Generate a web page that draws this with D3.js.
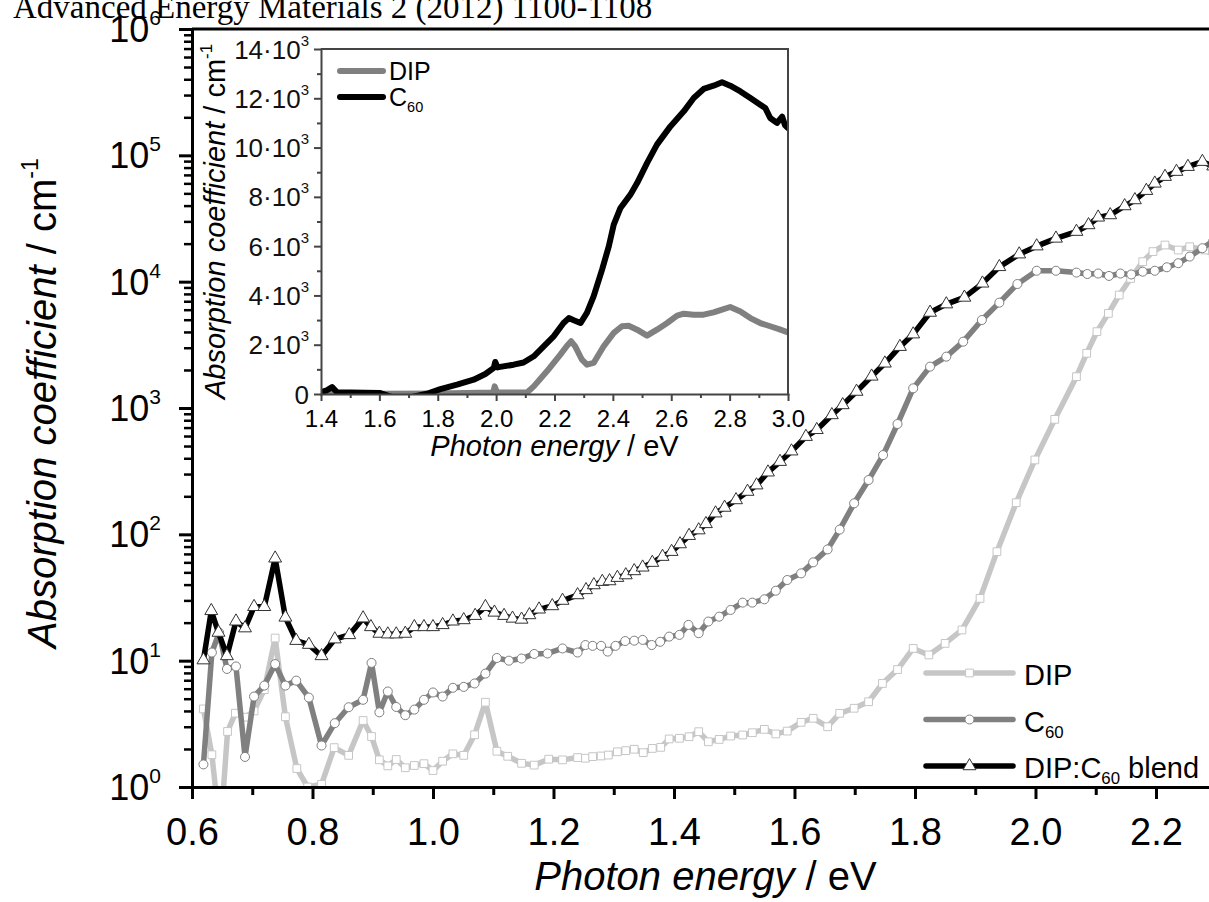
<!DOCTYPE html>
<html>
<head>
<meta charset="utf-8">
<script src="https://cdn.jsdelivr.net/npm/d3@7"></script>
<style>
  body { margin: 0; background: #fff; }
  svg { display: block; }
</style>
</head>
<body>
<div id="chart"></div>
<script>
// ---- data ----
const headerText = "Advanced Energy Materials 2 (2012) 1100-1108";

// main panel: absorption coefficient (cm^-1) vs photon energy (eV), log scale
const dipE = [0.619, 0.633, 0.641, 0.651, 0.659, 0.672, 0.688, 0.703, 0.720, 0.738, 0.755, 0.774, 0.792, 0.815, 0.836, 0.860, 0.884, 0.898, 0.911, 0.925, 0.939, 0.954, 0.969, 0.985, 1.000, 1.016, 1.033, 1.051, 1.069, 1.087, 1.106, 1.124, 1.147, 1.168, 1.192, 1.215, 1.240, 1.253, 1.265, 1.279, 1.291, 1.306, 1.320, 1.334, 1.349, 1.364, 1.378, 1.392, 1.409, 1.425, 1.441, 1.457, 1.475, 1.494, 1.514, 1.530, 1.550, 1.569, 1.588, 1.611, 1.631, 1.655, 1.675, 1.699, 1.723, 1.746, 1.771, 1.797, 1.823, 1.850, 1.878, 1.908, 1.936, 1.968, 1.999, 2.032, 2.068, 2.085, 2.102, 2.121, 2.139, 2.158, 2.178, 2.195, 2.215, 2.237, 2.256, 2.281, 2.295];
const dipAlpha = [4.15, 1.8, 0.8, 0.8, 2.75, 3.84, 3.57, 4.0, 5.9, 15.1, 3.6, 1.4, 1.0, 1.05, 2.05, 1.78, 3.36, 2.51, 1.64, 1.47, 1.65, 1.42, 1.48, 1.53, 1.35, 1.6, 1.83, 1.78, 2.59, 4.69, 1.92, 1.75, 1.54, 1.49, 1.66, 1.64, 1.71, 1.69, 1.74, 1.76, 1.79, 1.9, 1.94, 1.99, 1.87, 2.02, 2.06, 2.4, 2.43, 2.5, 2.74, 2.28, 2.38, 2.53, 2.58, 2.69, 2.86, 2.63, 2.77, 3.25, 3.5, 3.0, 3.83, 4.2, 4.73, 6.6, 8.5, 12.5, 11.1, 13.7, 17.5, 31.1, 72.9, 178, 388, 813, 1770, 2710, 4020, 5610, 7840, 10600, 14400, 17300, 19500, 17800, 18900, 17800, 16500];

const c60E = [0.619, 0.633, 0.645, 0.658, 0.673, 0.688, 0.703, 0.720, 0.738, 0.755, 0.773, 0.794, 0.815, 0.837, 0.860, 0.884, 0.898, 0.911, 0.925, 0.939, 0.954, 0.969, 0.985, 1.000, 1.016, 1.033, 1.051, 1.069, 1.087, 1.106, 1.126, 1.147, 1.168, 1.190, 1.215, 1.240, 1.253, 1.265, 1.279, 1.290, 1.303, 1.319, 1.334, 1.348, 1.363, 1.377, 1.392, 1.409, 1.424, 1.441, 1.457, 1.475, 1.494, 1.514, 1.530, 1.550, 1.569, 1.588, 1.611, 1.631, 1.655, 1.675, 1.699, 1.723, 1.747, 1.771, 1.797, 1.825, 1.852, 1.880, 1.911, 1.940, 1.970, 2.002, 2.034, 2.068, 2.086, 2.104, 2.122, 2.141, 2.159, 2.178, 2.198, 2.218, 2.237, 2.256, 2.277, 2.295];
const c60Alpha = [1.51, 11.6, 16.7, 8.6, 9.0, 1.73, 5.2, 6.35, 9.4, 6.35, 6.95, 5.1, 2.13, 3.2, 4.28, 4.9, 9.6, 3.9, 5.7, 4.3, 3.7, 4.1, 4.9, 5.6, 5.2, 6.1, 6.2, 6.6, 7.9, 10.5, 10.0, 10.4, 11.3, 11.4, 12.5, 11.6, 13.3, 13.1, 13.1, 11.8, 13.1, 14.3, 14.4, 14.6, 13.3, 14.1, 15.5, 16.0, 19.2, 16.5, 20.4, 22.3, 25.2, 28.8, 28.8, 30.6, 35.8, 43.5, 49.1, 60, 76, 109, 176, 269, 424, 747, 1431, 2125, 2550, 3350, 4970, 6820, 9580, 12200, 12200, 11800, 11500, 11600, 11100, 11600, 11400, 12000, 12200, 13000, 14000, 15800, 18400, 21000];

const blendE = [0.619, 0.632, 0.644, 0.658, 0.673, 0.688, 0.703, 0.720, 0.738, 0.755, 0.773, 0.794, 0.815, 0.837, 0.861, 0.884, 0.897, 0.911, 0.925, 0.939, 0.954, 0.969, 0.985, 1.000, 1.016, 1.033, 1.051, 1.070, 1.087, 1.102, 1.118, 1.132, 1.147, 1.160, 1.176, 1.198, 1.215, 1.240, 1.254, 1.267, 1.281, 1.293, 1.306, 1.320, 1.334, 1.348, 1.364, 1.381, 1.396, 1.410, 1.425, 1.441, 1.453, 1.469, 1.484, 1.503, 1.522, 1.537, 1.556, 1.576, 1.595, 1.619, 1.637, 1.662, 1.680, 1.703, 1.728, 1.750, 1.775, 1.797, 1.825, 1.852, 1.882, 1.912, 1.940, 1.973, 2.002, 2.034, 2.068, 2.088, 2.104, 2.124, 2.148, 2.165, 2.184, 2.198, 2.215, 2.234, 2.253, 2.277, 2.295];
const blendAlpha = [10.1, 24.8, 16.7, 10.9, 20.5, 18.1, 26.7, 26.7, 64.6, 22, 14.4, 13.4, 10.9, 14.8, 16, 21.7, 18.5, 16.4, 16.2, 16.2, 16.4, 18.5, 18.5, 18.5, 19.2, 20.5, 21, 22.7, 26.7, 24.1, 22.7, 21.6, 21.2, 23, 25.5, 27.1, 29.9, 33.1, 36.3, 39.7, 42.2, 42.7, 45.4, 47.6, 51.3, 54.8, 59.7, 66.6, 72.9, 83.8, 97.5, 108, 121, 147, 163, 187, 218, 245, 310, 376, 455, 593, 672, 881, 1057, 1350, 1780, 2258, 3056, 3840, 5700, 6640, 7500, 9700, 13100, 16500, 19100, 22000, 24900, 28100, 32300, 33700, 39700, 44300, 52500, 60000, 67800, 74300, 81300, 89100, 82000];

// inset: linear scale
const insetDipE = [1.40, 1.60, 1.80, 1.990, 1.995, 2.003, 2.106, 2.129, 2.174, 2.220, 2.243, 2.257, 2.271, 2.294, 2.311, 2.334, 2.368, 2.403, 2.431, 2.454, 2.483, 2.517, 2.551, 2.586, 2.620, 2.643, 2.677, 2.711, 2.745, 2.774, 2.802, 2.837, 2.871, 2.905, 2.939, 2.974, 3.00];
const insetDipAlpha = [20, 10, 20, 60, 310, 60, 60, 310, 920, 1600, 1960, 2140, 1930, 1390, 1190, 1260, 1930, 2480, 2750, 2770, 2610, 2370, 2610, 2880, 3180, 3260, 3220, 3220, 3310, 3420, 3530, 3350, 3080, 2880, 2750, 2610, 2500];
const insetC60E = [1.400, 1.420, 1.438, 1.455, 1.500, 1.550, 1.603, 1.650, 1.700, 1.763, 1.809, 1.866, 1.923, 1.963, 1.992, 1.997, 2.005, 2.014, 2.060, 2.094, 2.129, 2.163, 2.197, 2.231, 2.249, 2.266, 2.289, 2.311, 2.334, 2.363, 2.386, 2.403, 2.426, 2.460, 2.483, 2.517, 2.551, 2.597, 2.643, 2.677, 2.711, 2.745, 2.774, 2.802, 2.837, 2.871, 2.905, 2.922, 2.939, 2.962, 2.980, 2.990, 3.000];
const insetC60Alpha = [70, 150, 280, 70, 60, 50, 40, -150, -150, 10, 200, 380, 580, 810, 1060, 1300, 1080, 1100, 1190, 1280, 1530, 1930, 2340, 2880, 3080, 2990, 2880, 3290, 3960, 5050, 5990, 6870, 7550, 8090, 8560, 9370, 10120, 10860, 11470, 12010, 12380, 12510, 12650, 12510, 12280, 12010, 11740, 11610, 11200, 11000, 11250, 10900, 10790];

// ticks
const xTicks = [0.6, 0.8, 1.0, 1.2, 1.4, 1.6, 1.8, 2.0, 2.2];
const xMinorTicks = [0.7, 0.9, 1.1, 1.3, 1.5, 1.7, 1.9, 2.1];
const yDecades = [0, 1, 2, 3, 4, 5, 6];
const insetXTicks = [1.4, 1.6, 1.8, 2.0, 2.2, 2.4, 2.6, 2.8, 3.0];
const insetXMinorTicks = [1.5, 1.7, 1.9, 2.1, 2.3, 2.5, 2.7, 2.9];
const insetYTicks = [0, 2000, 4000, 6000, 8000, 10000, 12000, 14000];
const insetYMinorTicks = [1000, 3000, 5000, 7000, 9000, 11000, 13000];

// ---- drawing ----
const FONT = "'Liberation Sans', Arial, Helvetica, sans-serif";
const W = 1209, H = 902;

const svg = d3.select("#chart").append("svg")
    .attr("width", W)
    .attr("height", H)
    .attr("font-family", FONT);

svg.append("text")
    .attr("x", 13)
    .attr("y", 18)
    .attr("font-family", "'Liberation Serif', 'Times New Roman', serif")
    .attr("font-size", 33)
    .text(headerText);

// helper: write label parts (plain / italic / sup / sub) into a text element
function writeParts(textSel, parts, baseSize) {
    parts.forEach(p => {
        const t = textSel.append("tspan").text(p.t);
        if (p.italic) t.attr("font-style", "italic");
        if (p.sup) t.attr("font-size", baseSize * 0.58).attr("dy", -baseSize * 0.45);
        if (p.sub) t.attr("font-size", baseSize * 0.58).attr("dy", baseSize * 0.22);
        if (p.back) t.attr("dy", p.back);
    });
}

function styleAxis(g, color, width, size) {
    g.attr("font-family", FONT).attr("font-size", size);
    g.selectAll("path, line").attr("stroke", color).attr("stroke-width", width);
    g.select(".domain").attr("stroke-linecap", "square");
    g.selectAll("text").attr("fill", "#000");
}

// ===== main panel =====
const margin = { top: 29, right: 0, bottom: 115, left: 192 };
const x = d3.scaleLinear().domain([0.6, 2.288]).range([margin.left, W - margin.right]);
const y = d3.scaleLog().domain([1, 1e6]).range([H - margin.bottom, margin.top]);

svg.append("defs").append("clipPath").attr("id", "plot-clip")
    .append("rect")
    .attr("x", x.range()[0]).attr("y", y.range()[1])
    .attr("width", x.range()[1] - x.range()[0])
    .attr("height", y.range()[0] - y.range()[1]);

const mainSeries = [
    { label: [{ t: "DIP" }], e: dipE, v: dipAlpha, color: "#c6c6c6", symbol: d3.symbolSquare, size: 60, mstroke: "#c6c6c6" },
    { label: [{ t: "C" }, { t: "60", sub: true }], e: c60E, v: c60Alpha, color: "#808080", symbol: d3.symbolCircle, size: 64, mstroke: "#808080" },
    { label: [{ t: "DIP:C" }, { t: "60", sub: true }, { t: " blend", back: -29 * 0.22 }], e: blendE, v: blendAlpha, color: "#000", symbol: d3.symbolTriangle, size: 72, mstroke: "#333" }
];

const plot = svg.append("g").attr("clip-path", "url(#plot-clip)");
const line = d3.line().x(d => x(d[0])).y(d => y(d[1]));

mainSeries.forEach(s => {
    const pts = d3.zip(s.e, s.v);
    plot.append("path")
        .datum(pts)
        .attr("fill", "none")
        .attr("stroke", s.color)
        .attr("stroke-width", 5.5)
        .attr("stroke-linejoin", "round")
        .attr("d", line);
    plot.append("g").selectAll("path")
        .data(pts)
        .join("path")
        .attr("transform", d => `translate(${x(d[0])},${y(d[1])})`)
        .attr("d", d3.symbol().type(s.symbol).size(s.size))
        .attr("fill", "#fff")
        .attr("stroke", s.mstroke)
        .attr("stroke-width", 1);
});

// axes
const xAxisG = svg.append("g")
    .attr("transform", `translate(0,${y(1)})`)
    .call(d3.axisBottom(x).tickValues(xTicks).tickSize(12).tickSizeOuter(0)
        .tickPadding(19).tickFormat(d3.format(".1f")));
styleAxis(xAxisG, "#000", 3, 38);

const xMinorG = svg.append("g")
    .attr("transform", `translate(0,${y(1)})`)
    .call(d3.axisBottom(x).tickValues(xMinorTicks).tickSize(8).tickFormat(""));
xMinorG.select(".domain").remove();
styleAxis(xMinorG, "#000", 3, 10);

const yMinor = [];
yDecades.slice(0, -1).forEach(p => d3.range(2, 10).forEach(m => yMinor.push(m * Math.pow(10, p))));

const yAxisG = svg.append("g")
    .attr("transform", `translate(${x(0.6)},0)`)
    .call(d3.axisLeft(y).tickValues(yDecades.map(p => Math.pow(10, p)))
        .tickSize(13).tickSizeOuter(0).tickFormat(""));
styleAxis(yAxisG, "#000", 3, 10);

const yMinorG = svg.append("g")
    .attr("transform", `translate(${x(0.6)},0)`)
    .call(d3.axisLeft(y).tickValues(yMinor).tickSize(8).tickFormat(""));
yMinorG.select(".domain").remove();
styleAxis(yMinorG, "#000", 2.5, 10);

yDecades.forEach(p => {
    const t = svg.append("text")
        .attr("x", x(0.6) - 31)
        .attr("y", y(Math.pow(10, p)))
        .attr("dy", "0.36em")
        .attr("text-anchor", "end")
        .attr("font-size", 36);
    t.append("tspan").text("10");
    t.append("tspan").attr("font-size", 21).attr("dy", -17).text(p);
});

svg.append("line")
    .attr("x1", x.range()[0]).attr("x2", x.range()[1])
    .attr("y1", y(1e6)).attr("y2", y(1e6))
    .attr("stroke", "#000").attr("stroke-width", 3);

// titles
const xTitle = svg.append("text")
    .attr("x", (x.range()[0] + x.range()[1]) / 2 + 5)
    .attr("y", 890)
    .attr("text-anchor", "middle")
    .attr("font-size", 40);
writeParts(xTitle, [{ t: "Photon energy", italic: true }, { t: " / eV" }], 40);

const yTitle = svg.append("text")
    .attr("transform", `translate(56,${(y.range()[0] + y.range()[1]) / 2 - 5}) rotate(-90)`)
    .attr("text-anchor", "middle")
    .attr("font-size", 40);
writeParts(yTitle, [{ t: "Absorption coefficient", italic: true }, { t: " / cm" }, { t: "-1", sup: true }], 40);

// legend
const leg = { x0: 926, x1: 1013, y0: 673, step: 46.5, tx: 1024 };
mainSeries.forEach((s, i) => {
    const ly = leg.y0 + i * leg.step;
    svg.append("line")
        .attr("x1", leg.x0).attr("x2", leg.x1)
        .attr("y1", ly).attr("y2", ly)
        .attr("stroke", s.color).attr("stroke-width", 5.5)
        .attr("stroke-linecap", "round");
    svg.append("path")
        .attr("transform", `translate(${(leg.x0 + leg.x1) / 2},${ly})`)
        .attr("d", d3.symbol().type(s.symbol).size(s.size))
        .attr("fill", "#fff").attr("stroke", s.mstroke).attr("stroke-width", 1);
    const t = svg.append("text")
        .attr("x", leg.tx).attr("y", ly + 12)
        .attr("font-size", 29);
    writeParts(t, s.label, 29);
});

// ===== inset =====
const xi = d3.scaleLinear().domain([1.4, 3.0]).range([321, 788]);
const yi = d3.scaleLinear().domain([0, 14000]).range([394, 49]);
const insetColor = "#444";

svg.append("defs").append("clipPath").attr("id", "inset-clip")
    .append("rect")
    .attr("x", xi.range()[0]).attr("y", yi.range()[1])
    .attr("width", xi.range()[1] - xi.range()[0])
    .attr("height", yi.range()[0] - yi.range()[1]);

const insetSeries = [
    { label: [{ t: "DIP" }], e: insetDipE, v: insetDipAlpha, color: "#808080" },
    { label: [{ t: "C" }, { t: "60", sub: true }], e: insetC60E, v: insetC60Alpha, color: "#000" }
];

const insetPlot = svg.append("g").attr("clip-path", "url(#inset-clip)");
const insetLine = d3.line().x(d => xi(d[0])).y(d => yi(d[1]));
insetSeries.forEach(s => {
    insetPlot.append("path")
        .datum(d3.zip(s.e, s.v))
        .attr("fill", "none")
        .attr("stroke", s.color)
        .attr("stroke-width", 6)
        .attr("stroke-linejoin", "round")
        .attr("stroke-linecap", "round")
        .attr("d", insetLine);
});

const xiAxisG = svg.append("g")
    .attr("transform", `translate(0,${yi(0)})`)
    .call(d3.axisBottom(xi).tickValues(insetXTicks).tickSize(7).tickSizeOuter(0)
        .tickPadding(9).tickFormat(d3.format(".1f")));
styleAxis(xiAxisG, insetColor, 2, 24);

const xiMinorG = svg.append("g")
    .attr("transform", `translate(0,${yi(0)})`)
    .call(d3.axisBottom(xi).tickValues(insetXMinorTicks).tickSize(4).tickFormat(""));
xiMinorG.select(".domain").remove();
styleAxis(xiMinorG, insetColor, 2, 10);

const yiAxisG = svg.append("g")
    .attr("transform", `translate(${xi(1.4)},0)`)
    .call(d3.axisLeft(yi).tickValues(insetYTicks).tickSize(7).tickSizeOuter(0).tickFormat(""));
styleAxis(yiAxisG, insetColor, 2, 10);

const yiMinorG = svg.append("g")
    .attr("transform", `translate(${xi(1.4)},0)`)
    .call(d3.axisLeft(yi).tickValues(insetYMinorTicks).tickSize(4).tickFormat(""));
yiMinorG.select(".domain").remove();
styleAxis(yiMinorG, insetColor, 2, 10);

insetYTicks.forEach(v => {
    const t = svg.append("text")
        .attr("x", xi(1.4) - 12)
        .attr("y", yi(v))
        .attr("dy", "0.37em")
        .attr("text-anchor", "end")
        .attr("font-size", 26)
        .attr("fill", "#111");
    if (v === 0) {
        t.text("0");
    } else {
        t.append("tspan").text(`${v / 1000}\u00b710`);
        t.append("tspan").attr("font-size", 15).attr("dy", -13).text("3");
    }
});

// inset frame (top, right)
svg.append("path")
    .attr("d", `M${xi(1.4)},${yi(14000)}H${xi(3.0)}V${yi(0)}`)
    .attr("fill", "none").attr("stroke", insetColor).attr("stroke-width", 2);

const xiTitle = svg.append("text")
    .attr("x", (xi.range()[0] + xi.range()[1]) / 2)
    .attr("y", 456)
    .attr("text-anchor", "middle")
    .attr("font-size", 29);
writeParts(xiTitle, [{ t: "Photon energy", italic: true }, { t: " / eV" }], 29);

const yiTitle = svg.append("text")
    .attr("transform", `translate(225,${(yi.range()[0] + yi.range()[1]) / 2}) rotate(-90)`)
    .attr("text-anchor", "middle")
    .attr("font-size", 29);
writeParts(yiTitle, [{ t: "Absorption coefficient", italic: true }, { t: " / cm" }, { t: "-1", sup: true }], 29);

const ileg = { x0: 340, x1: 383, y0: 71, step: 26, tx: 389 };
insetSeries.forEach((s, i) => {
    const ly = ileg.y0 + i * ileg.step;
    svg.append("line")
        .attr("x1", ileg.x0).attr("x2", ileg.x1)
        .attr("y1", ly).attr("y2", ly)
        .attr("stroke", s.color).attr("stroke-width", 6)
        .attr("stroke-linecap", "round");
    const t = svg.append("text")
        .attr("x", ileg.tx).attr("y", ly + 9)
        .attr("font-size", 25);
    writeParts(t, s.label, 25);
});
</script>
</body>
</html>
